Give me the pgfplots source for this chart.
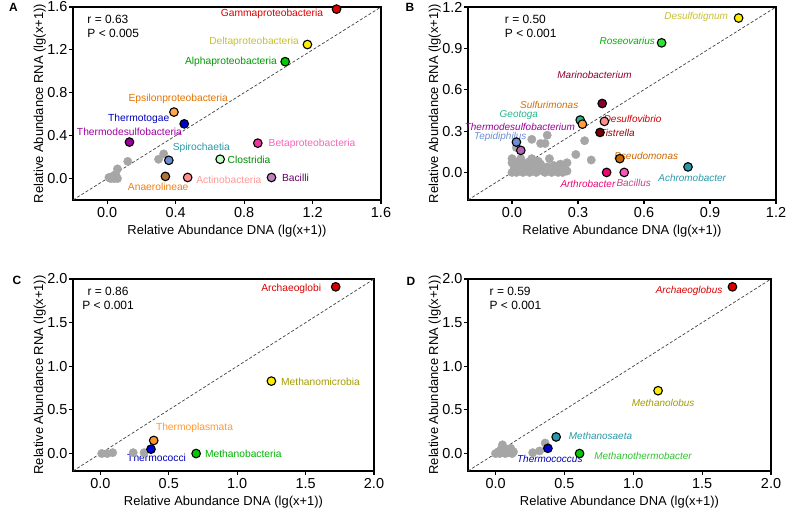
\documentclass[border=0pt]{standalone}
\usepackage{pgfplots}
\pgfplotsset{compat=1.18}
\usepackage{fontspec}
\setmainfont{Liberation Sans}
\newcommand{\pt}[3]{\addplot[only marks, mark=*, mark size=4.3bp, mark options={fill=#1, draw=black, line width=1.1pt}] coordinates {(#2,#3)};}
\newcommand{\lab}[4]{\node[text=#1, font=\fontsize{10.3}{11}\selectfont, inner sep=0pt] at (axis cs:#2,#3) {#4};}
\newcommand{\ilab}[4]{\node[text=#1, font=\fontsize{10}{11}\selectfont\itshape, inner sep=0pt] at (axis cs:#2,#3) {#4};}
\definecolor{grayp}{HTML}{A6A6A6}
\definecolor{tealc}{HTML}{2A98A8}
\definecolor{tealg}{HTML}{2CB48C}
\pgfplotsset{panel/.style={
  scale only axis, clip=false,
  axis line style={line width=1.4pt},
  tick style={line width=1.1pt, black},
  tick align=outside, tick pos=left, major tick length=4bp,
  ticklabel style={font=\fontsize{14.5}{15}\selectfont},
  yticklabel style={xshift=2bp},
  label style={font=\fontsize{13}{14}\selectfont},
  xlabel={Relative Abundance DNA (lg(x+1))},
  ylabel={Relative Abundance RNA (lg(x+1))},
  /pgf/number format/assume math mode=true,
  /pgf/number format/fixed, /pgf/number format/fixed zerofill, /pgf/number format/precision=1,
  x label style={at={(axis description cs:0.5,-0.16)}, anchor=center},
  y label style={at={(axis description cs:-0.108,0.5)}, anchor=center},
}}
\begin{document}
\begin{tikzpicture}[x=1bp,y=1bp]
\useasboundingbox (0,0) rectangle (787,512);
\node[font=\fontsize{12}{12}\selectfont\bfseries] at (13.5,505) {A};
\node[font=\fontsize{12}{12}\selectfont\bfseries] at (410,505) {B};
\node[font=\fontsize{12}{12}\selectfont\bfseries] at (17,231.5) {C};
\node[font=\fontsize{12}{12}\selectfont\bfseries] at (411,231) {D};
% ---------------- A
\begin{axis}[panel, at={(73bp,312bp)}, anchor=south west, width=308bp, height=193bp,
  xmin=-0.2, xmax=1.6, ymin=-0.2, ymax=1.6, xtick={0,0.4,...,1.6}, ytick={0,0.4,...,1.6}]
\addplot[densely dashed, line width=0.7pt, black!75] coordinates {(-0.2,-0.2) (1.6,1.6)};
\addplot[only marks, mark=*, mark size=4.2bp, grayp] coordinates {(0.33,0.23)(0.30,0.18)(0.12,0.16)(0.06,0.09)(0.01,0.01)(0.04,0.00)(0.06,0.00)(0.05,0.04)(0.03,0.02)(0.02,0.00)};
\pt{red!85!black}{1.34}{1.58}
\pt{yellow!95!orange}{1.17}{1.25}
\pt{green!80!black}{1.04}{1.09}
\pt{orange!70!white}{0.39}{0.62}
\pt{blue!80!black}{0.45}{0.51}
\pt{violet!80!magenta}{0.13}{0.34}
\pt{cyan!40!blue!60!white}{0.36}{0.17}
\pt{magenta!80!white}{0.88}{0.33}
\pt{green!25!white}{0.66}{0.18}
\pt{red!45!white}{0.47}{0.01}
\pt{violet!50!white}{0.96}{0.01}
\pt{brown!90!black}{0.34}{0.02}
\lab{red!85!black}{0.963}{1.532}{Gammaproteobacteria}
\lab{yellow!75!black}{0.858}{1.274}{Deltaproteobacteria}
\lab{green!60!black}{0.723}{1.084}{Alphaproteobacteria}
\lab{orange!90!black}{0.415}{0.746}{Epsilonproteobacteria}
\lab{blue!75!black}{0.184}{0.559}{Thermotogae}
\lab{violet!75!magenta}{0.130}{0.432}{Thermodesulfobacteria}
\lab{tealc}{0.550}{0.286}{Spirochaetia}
\lab{magenta!60!white}{1.197}{0.326}{Betaproteobacteria}
\lab{green!55!black}{0.829}{0.174}{Clostridia}
\lab{red!40!white}{0.711}{-0.012}{Actinobacteria}
\lab{violet!80!black}{1.100}{0.003}{Bacilli}
\lab{orange!70!brown}{0.298}{-0.081}{Anaerolineae}
\node[anchor=west, font=\fontsize{12}{12}\selectfont] at (axis cs:-0.136,1.488) {r = 0.63};
\node[anchor=west, font=\fontsize{12}{12}\selectfont] at (axis cs:-0.136,1.357) {P < 0.005};
\end{axis}
% ---------------- B
\begin{axis}[panel, at={(468bp,312bp)}, anchor=south west, width=308bp, height=193bp,
  xmin=-0.2, xmax=1.2, ymin=-0.2, ymax=1.2, xtick={0,0.3,...,1.2}, ytick={0,0.3,...,1.2}]
\addplot[densely dashed, line width=0.7pt, black!75] coordinates {(-0.2,-0.2) (1.2,1.2)};
\addplot[only marks, mark=*, mark size=4.2bp, grayp] coordinates {
(0.16,0.27)(0.09,0.24)(0.13,0.21)(0.15,0.21)(0.33,0.23)(0.02,0.18)(0.29,0.13)(0.36,0.09)(0.17,0.10)
(0.00,0.00)(0.01,0.02)(0.02,0.00)(0.02,0.05)(0.03,0.01)(0.04,0.03)(0.05,0.00)(0.05,0.07)(0.06,0.02)
(0.07,0.04)(0.08,0.00)(0.08,0.08)(0.09,0.02)(0.10,0.05)(0.11,0.00)(0.12,0.03)(0.13,0.06)(0.14,0.01)
(0.15,0.00)(0.16,0.04)(0.17,0.02)(0.18,0.00)(0.19,0.05)(0.20,0.01)(0.21,0.00)(0.22,0.02)(0.23,0.00)
(0.24,0.03)(0.25,0.01)(0.25,0.07)(0.00,0.07)(0.01,0.04)(0.03,0.08)(0.06,0.06)(0.12,0.08)(0.04,0.10)(0.09,0.10)(0.00,0.10)(0.22,0.06)};
\pt{yellow!95!orange}{1.03}{1.12}
\pt{green!80!white!90!black}{0.68}{0.94}
\pt{purple!70!black}{0.41}{0.50}
\pt{tealg}{0.31}{0.38}
\pt{orange!75!white}{0.32}{0.35}
\pt{red!45!white}{0.42}{0.37}
\pt{red!45!black}{0.40}{0.29}
\pt{cyan!40!blue!60!white}{0.02}{0.22}
\pt{violet!60!white}{0.04}{0.16}
\pt{orange!80!black}{0.49}{0.10}
\pt{tealc}{0.80}{0.04}
\pt{magenta!70!red}{0.43}{0.00}
\pt{magenta!65!white}{0.51}{0.00}
\ilab{yellow!75!black}{0.837}{1.128}{Desulfotignum}
\ilab{green!70!black}{0.524}{0.953}{Roseovarius}
\ilab{purple!75!black}{0.375}{0.709}{Marinobacterium}
\ilab{orange!85!black}{0.169}{0.488}{Sulfurimonas}
\ilab{tealg}{0.031}{0.414}{Geotoga}
\ilab{red!80!black}{0.548}{0.389}{Desulfovibrio}
\ilab{violet!80!magenta}{0.036}{0.329}{Thermodesulfobacterium}
\ilab{red!60!black}{0.478}{0.283}{Tistrella}
\ilab{cyan!40!blue!60!white}{-0.053}{0.258}{Tepidiphilus}
\ilab{orange!80!black}{0.610}{0.116}{Pseudomonas}
\ilab{tealc}{0.819}{-0.039}{Achromobacter}
\ilab{magenta!80!red}{0.345}{-0.082}{Arthrobacter}
\ilab{magenta!75!black!90!white}{0.553}{-0.073}{Bacillus}
\node[anchor=west, font=\fontsize{12}{12}\selectfont] at (axis cs:-0.048,1.113) {r = 0.50};
\node[anchor=west, font=\fontsize{12}{12}\selectfont] at (axis cs:-0.048,1.011) {P < 0.001};
\end{axis}
% ---------------- C
\begin{axis}[panel, at={(73bp,41bp)}, anchor=south west, width=301bp, height=192bp,
  xmin=-0.2, xmax=2.0, ymin=-0.2, ymax=2.0, xtick={0,0.5,...,2.0}, ytick={0,0.5,...,2.0},
  y label style={at={(axis description cs:-0.11,0.5)}}]
\addplot[densely dashed, line width=0.7pt, black!75] coordinates {(-0.2,-0.2) (2.0,2.0)};
\addplot[only marks, mark=*, mark size=4.2bp, grayp] coordinates {(0.01,0.00)(0.05,0.00)(0.09,0.01)(0.24,0.01)(0.32,0.01)};
\pt{red!85!black}{1.72}{1.91}
\pt{yellow!95!orange}{1.25}{0.83}
\pt{orange!85!white}{0.39}{0.15}
\pt{blue!85!black}{0.37}{0.05}
\pt{green!80!black}{0.70}{0.00}
\lab{red!85!black}{1.395}{1.885}{Archaeoglobi}
\lab{olive!80!yellow}{1.609}{0.823}{Methanomicrobia}
\lab{orange!80!white}{0.688}{0.296}{Thermoplasmata}
\lab{blue!75!black}{0.411}{-0.048}{Thermococci}
\lab{green!70!black}{1.045}{0.000}{Methanobacteria}
\node[font=\fontsize{12}{12}\selectfont] at (axis cs:0.056,1.854) {r = 0.86};
\node[font=\fontsize{12}{12}\selectfont] at (axis cs:0.056,1.692) {P < 0.001};
\end{axis}
% ---------------- D
\begin{axis}[panel, at={(468bp,41bp)}, anchor=south west, width=303bp, height=192bp,
  xmin=-0.2, xmax=2.0, ymin=-0.2, ymax=2.0, xtick={0,0.5,...,2.0}, ytick={0,0.5,...,2.0},
  y label style={at={(axis description cs:-0.11,0.5)}}]
\addplot[densely dashed, line width=0.7pt, black!75] coordinates {(-0.2,-0.2) (2.0,2.0)};
\addplot[only marks, mark=*, mark size=4.2bp, grayp] coordinates {(0.00,0.00)(0.02,0.02)(0.04,0.05)(0.05,0.10)(0.06,0.02)(0.07,0.00)(0.08,0.04)(0.09,0.01)(0.10,0.03)(0.11,0.06)(0.12,0.00)(0.13,0.02)(0.03,0.00)(0.27,0.01)(0.32,0.03)(0.36,0.12)};
\pt{red!85!black}{1.72}{1.91}
\pt{yellow!95!orange}{1.18}{0.72}
\pt{tealc}{0.44}{0.19}
\pt{blue!85!black}{0.38}{0.06}
\pt{green!80!black}{0.61}{0.00}
\ilab{red!85!black}{1.405}{1.865}{Archaeoglobus}
\ilab{olive!80!yellow}{1.217}{0.577}{Methanolobus}
\ilab{tealc}{0.762}{0.200}{Methanosaeta}
\ilab{blue!70!black}{0.394}{-0.058}{Thermococcus}
\ilab{green!70!black!80!white}{1.071}{-0.025}{Methanothermobacter}
\node[anchor=west, font=\fontsize{12}{12}\selectfont] at (axis cs:-0.068,1.854) {r = 0.59};
\node[anchor=west, font=\fontsize{12}{12}\selectfont] at (axis cs:-0.068,1.692) {P < 0.001};
\end{axis}
\end{tikzpicture}
\end{document}
